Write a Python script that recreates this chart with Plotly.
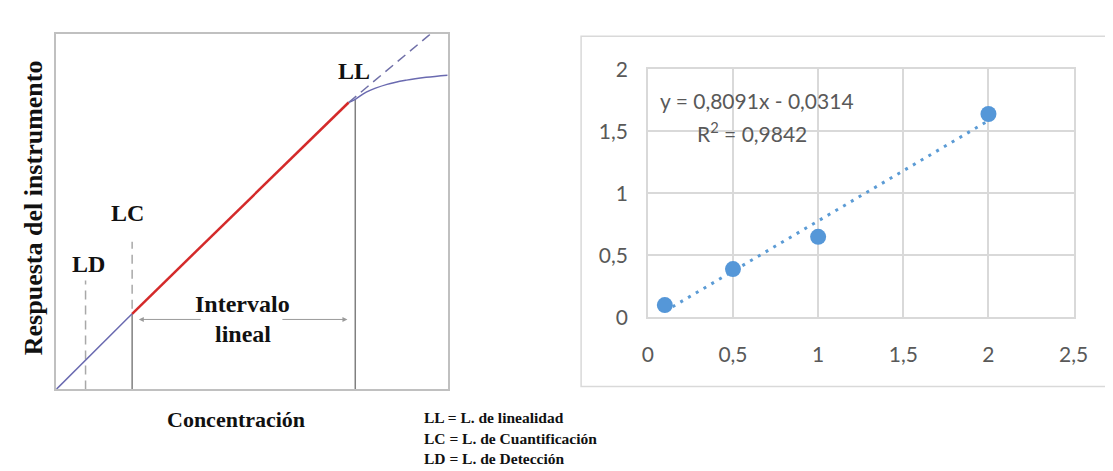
import plotly.graph_objects as go

# ---------------- Right panel: calibration data ----------------
conc = [0.1, 0.5, 1.0, 2.0]
resp = [0.10, 0.39, 0.65, 1.64]
slope = 0.8091
intercept = -0.0314
trend_x = [0.1, 2.0]
x_tickvals = [0, 0.5, 1, 1.5, 2, 2.5]
x_ticktext = ["0", "0,5", "1", "1,5", "2", "2,5"]
y_tickvals = [0, 0.5, 1, 1.5, 2]
y_ticktext = ["0", "0,5", "1", "1,5", "2"]
eq_text = "y = 0,8091x - 0,0314"
r2_text = "R<sup>2</sup> = 0,9842"

# ---------------- Left panel: schematic (units 0..100) ----------------
lod_x = [7.5, 7.5]
lod_y = [0, 30.7]
low_x = [0, 19.4]
low_y = [0, 21.3]
lin_x = [19.4, 74.7]
lin_y = [21.3, 80.8]
ext_x = [74.7, 95.5]
ext_y = [80.8, 100]
curve_x = [74.7, 76.4, 79.2, 84.5, 89.5, 94.5, 100]
curve_y = [80.8, 81.7, 83.7, 85.9, 87.1, 87.9, 88.5]
loq_solid_x = [19.4, 19.4]
loq_solid_y = [0, 21.3]
loq_dash_x = [19.4, 19.4]
loq_dash_y = [22.7, 41.6]
lol_x = [76.4, 76.4]
lol_y = [0, 81.7]
interval_y = 19.7
interval_ends = [21.1, 74.4]
interval_gap = [37.3, 57.4]

W, H = 1113, 471
OFF = 0


def px(x):
    return (x - OFF) / W


def py(y):
    return 1 - (y - OFF) / H


fig = go.Figure()

# Right panel
fig.add_trace(go.Scatter(x=trend_x, y=[slope * v + intercept for v in trend_x],
                         mode="lines", line=dict(color="#5B9BD5", width=3, dash="3px,6px"),
                         xaxis="x", yaxis="y", hoverinfo="skip"))
fig.add_trace(go.Scatter(x=conc, y=resp, mode="markers",
                         marker=dict(color="#5597D8", size=16),
                         xaxis="x", yaxis="y"))

# Left panel
grey_dash = dict(color="#A8A8A8", width=1.5, dash="9px,6px")
fig.add_trace(go.Scatter(x=lod_x, y=lod_y, mode="lines", line=grey_dash, xaxis="x2", yaxis="y2"))
fig.add_trace(go.Scatter(x=loq_dash_x, y=loq_dash_y, mode="lines", line=grey_dash, xaxis="x2", yaxis="y2"))
fig.add_trace(go.Scatter(x=loq_solid_x, y=loq_solid_y, mode="lines",
                         line=dict(color="#808080", width=1.5), xaxis="x2", yaxis="y2"))
fig.add_trace(go.Scatter(x=lol_x, y=lol_y, mode="lines",
                         line=dict(color="#808080", width=1.5), xaxis="x2", yaxis="y2"))
fig.add_trace(go.Scatter(x=low_x, y=low_y, mode="lines",
                         line=dict(color="#6A6AB0", width=1.5), xaxis="x2", yaxis="y2"))
fig.add_trace(go.Scatter(x=curve_x, y=curve_y, mode="lines", line_shape="spline",
                         line=dict(color="#6A6AB0", width=1.5), xaxis="x2", yaxis="y2"))
fig.add_trace(go.Scatter(x=ext_x, y=ext_y, mode="lines",
                         line=dict(color="#7070A8", width=1.5, dash="10px,6px"), xaxis="x2", yaxis="y2"))
fig.add_trace(go.Scatter(x=lin_x, y=lin_y, mode="lines",
                         line=dict(color="#D42A2A", width=2.5), xaxis="x2", yaxis="y2"))

serif = "Liberation Serif, Times New Roman, serif"
sans = "Lato, Liberation Sans, sans-serif"

annotations = []
# interval arrows
annotations.append(dict(x=interval_ends[0], y=interval_y, ax=interval_gap[0], ay=interval_y,
                        xref="x2", yref="y2", axref="x2", ayref="y2", text="", showarrow=True,
                        arrowhead=2, arrowsize=1, arrowwidth=1, arrowcolor="#9A9A9A"))
annotations.append(dict(x=interval_ends[1], y=interval_y, ax=interval_gap[1], ay=interval_y,
                        xref="x2", yref="y2", axref="x2", ayref="y2", text="", showarrow=True,
                        arrowhead=2, arrowsize=1, arrowwidth=1, arrowcolor="#9A9A9A"))


def lab(text, x, y, size=24):
    return dict(text=f"<b>{text}</b>", x=x, y=y, xref="x2", yref="y2", showarrow=False,
                xanchor="center", yanchor="middle",
                font=dict(family=serif, size=size, color="#111111"))


annotations += [
    lab("LL", 76.2, 89.6),
    lab("LC", 18.3, 49.6),
    lab("LD", 8.3, 35.2),
    lab("Intervalo", 47.6, 24.0),
    lab("lineal", 47.6, 15.5),
]
annotations.append(dict(text="<b>Respuesta del instrumento</b>", x=px(20), y=py(196),
                        xref="paper", yref="paper", showarrow=False, textangle=-90,
                        xanchor="center", yanchor="middle",
                        font=dict(family=serif, size=26, color="#111111")))
annotations.append(dict(text="<b>Concentración</b>", x=px(226), y=py(420),
                        xref="paper", yref="paper", showarrow=False,
                        xanchor="center", yanchor="middle",
                        font=dict(family=serif, size=22, color="#111111")))
for t, yy in [("LL = L. de linealidad", 418), ("LC = L. de Cuantificación", 440),
              ("LD = L. de Detección", 461)]:
    annotations.append(dict(text=f"<b>{t}</b>", x=px(416), y=py(yy), xref="paper", yref="paper",
                            xanchor="left", yanchor="middle", showarrow=False,
                            font=dict(family=serif, size=15.5, color="#111111")))
# equation
annotations.append(dict(text=eq_text, x=px(757), y=py(83), xref="paper", yref="paper",
                        xanchor="center", yanchor="middle",
                        showarrow=False, font=dict(family=sans, size=21, color="#595959")))
annotations.append(dict(text=r2_text, x=px(752), y=py(116), xref="paper", yref="paper",
                        xanchor="center", yanchor="middle",
                        showarrow=False, font=dict(family=sans, size=21, color="#595959")))

grid = "#D9D9D9"
fig.update_layout(
    width=W, height=H, margin=dict(l=0, r=0, t=0, b=0),
    paper_bgcolor="white", plot_bgcolor="white", showlegend=False,
    xaxis=dict(domain=[px(646), px(1080)], range=[0, 2.5], tickvals=x_tickvals, ticktext=x_ticktext,
               showgrid=True, gridcolor=grid, gridwidth=1.5, zeroline=False,
               showline=True, mirror=True, linecolor=grid, linewidth=1.5,
               ticks="outside", ticklen=18, tickcolor="rgba(0,0,0,0)",
               tickfont=dict(family=sans, size=21, color="#595959"), anchor="y"),
    yaxis=dict(domain=[py(312), py(50)], range=[0, 2], tickvals=y_tickvals, ticktext=y_ticktext,
               showgrid=True, gridcolor=grid, gridwidth=1.5, zeroline=False,
               showline=True, mirror=True, linecolor=grid, linewidth=1.5,
               ticks="outside", ticklen=14, tickcolor="rgba(0,0,0,0)",
               tickfont=dict(family=sans, size=21, color="#595959"), anchor="x"),
    xaxis2=dict(domain=[px(43), px(442)], range=[0, 100], showgrid=False, zeroline=False,
                showticklabels=False, showline=True, mirror=True, linecolor="#C0C0C0",
                linewidth=2, anchor="y2"),
    yaxis2=dict(domain=[py(388), py(13)], range=[0, 100], showgrid=False, zeroline=False,
                showticklabels=False, showline=True, mirror=True, linecolor="#C0C0C0",
                linewidth=2, anchor="x2"),
    annotations=annotations,
    shapes=[dict(type="rect", xref="paper", yref="paper", x0=px(578), x1=px(1130),
                 y0=py(385), y1=py(15), line=dict(color=grid, width=1.5))],
)

fig.write_html("out.html")
